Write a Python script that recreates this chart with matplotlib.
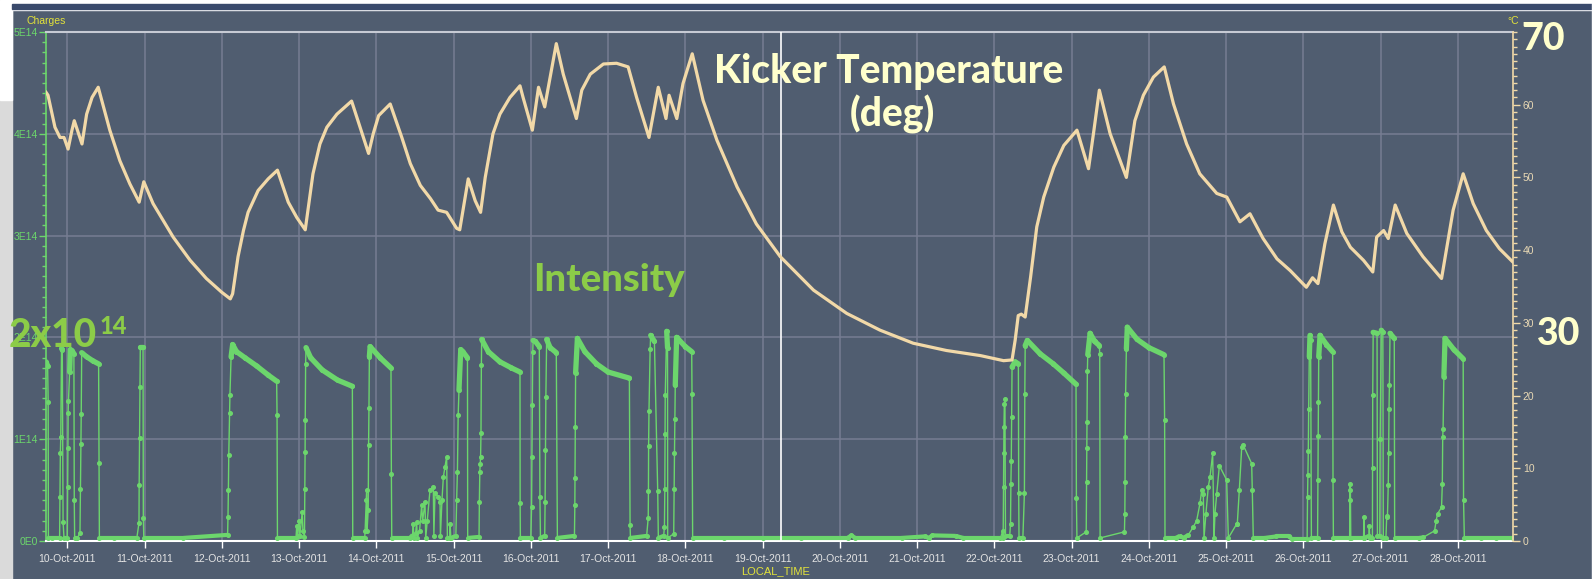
import matplotlib.pyplot as plt
import numpy as np
from matplotlib.collections import LineCollection
from matplotlib.patches import Rectangle

plt.rcParams['font.family'] = ['Liberation Sans', 'DejaVu Sans']

W, H = 1595, 579

# time axis: day of October 2011 (fractional)
temp_day = [9.725, 9.75, 9.84, 9.905, 9.957, 10.01, 10.06, 10.09, 10.19, 10.25, 10.32, 10.40,
            10.55, 10.68, 10.81, 10.93, 10.99, 11.11, 11.37, 11.59, 11.80, 12.00, 12.11, 12.14,
            12.21, 12.28, 12.34, 12.47, 12.60, 12.72, 12.86, 12.97, 13.08, 13.12, 13.18, 13.27,
            13.36, 13.49, 13.68, 13.79, 13.90, 13.96, 14.03, 14.18, 14.33, 14.44, 14.57, 14.70,
            14.80, 14.91, 15.04, 15.08, 15.19, 15.28, 15.35, 15.41, 15.51, 15.60, 15.73, 15.86,
            15.90, 16.02, 16.10, 16.18, 16.33, 16.42, 16.59, 16.66, 16.77, 16.94, 17.11, 17.26,
            17.37, 17.53, 17.65, 17.75, 17.79, 17.89, 17.97, 18.09, 18.23, 18.41, 18.67, 18.92,
            19.23, 19.66, 20.09, 20.52, 20.95, 21.38, 21.82, 22.12, 22.23, 22.27, 22.31, 22.35,
            22.40, 22.47, 22.55, 22.64, 22.77, 22.90, 23.07, 23.22, 23.29, 23.36, 23.50, 23.71,
            23.82, 23.93, 24.06, 24.20, 24.32, 24.49, 24.66, 24.79, 24.88, 25.01, 25.18, 25.31,
            25.48, 25.66, 25.83, 26.04, 26.12, 26.19, 26.28, 26.39, 26.50, 26.61, 26.78, 26.90,
            26.95, 27.04, 27.10, 27.19, 27.34, 27.55, 27.79, 27.94, 28.07, 28.20, 28.37, 28.54,
            28.71]
temp_deg = [61.7, 61.3, 56.9, 55.5, 55.5, 53.9, 56.5, 57.8, 54.6, 58.7, 61.0, 62.4,
            56.5, 52.3, 49.1, 46.6, 49.4, 46.4, 41.8, 38.6, 36.1, 34.2, 33.3, 34.0,
            39.1, 42.7, 45.2, 48.2, 49.8, 51.0, 46.6, 44.5, 42.8, 45.9, 50.5, 54.6,
            56.9, 58.7, 60.5, 56.9, 53.3, 56.0, 58.5, 60.1, 55.5, 51.9, 48.9, 47.1,
            45.5, 45.2, 43.0, 42.8, 49.8, 46.8, 45.2, 50.0, 56.0, 58.7, 61.0, 62.6,
            61.0, 56.5, 62.4, 59.7, 68.4, 64.2, 58.1, 62.0, 64.2, 65.6, 65.7, 65.2,
            61.0, 55.5, 62.4, 58.1, 61.3, 58.1, 62.9, 67.0, 60.6, 55.1, 48.7, 43.6,
            39.1, 34.5, 31.3, 29.0, 27.2, 26.2, 25.5, 24.8, 24.9, 27.6, 31.0, 31.2,
            30.8, 36.3, 43.2, 47.3, 51.4, 54.4, 56.5, 51.2, 56.5, 62.0, 56.0, 50.0,
            57.8, 61.3, 63.8, 65.2, 60.1, 54.6, 50.5, 48.9, 47.8, 47.3, 43.9, 45.0,
            41.6, 38.8, 37.2, 34.9, 36.2, 35.4, 40.9, 46.2, 42.5, 40.4, 38.6, 37.0,
            41.8, 42.7, 41.6, 46.2, 42.3, 39.1, 36.1, 45.5, 50.5, 46.4, 42.7, 40.2,
            38.4]

# beam intensity, units of 1E14 charges
int_day = [9.725, 9.745, 9.752, 9.755, 9.80, 9.90,
           9.905, 9.91, 9.915, 9.925, 9.935, 9.945, 9.957,
           10.0, 10.005, 10.008, 10.011, 10.015, 10.03, 10.04, 10.06, 10.085, 10.09, 10.095,
           10.13, 10.164, 10.17, 10.175, 10.18, 10.186, 10.25, 10.33, 10.405, 10.41, 10.415,
           10.6, 10.9, 10.928, 10.93, 10.935, 10.94, 10.945, 10.98, 10.984, 10.99,
           11.5, 12.075, 12.08, 12.085, 12.09, 12.10, 12.105, 12.12, 12.14, 12.19, 12.30, 12.45,
           12.60, 12.71, 12.715, 12.72,
           12.96, 12.97, 12.98, 13.00, 13.01, 13.04, 13.05, 13.07,
           13.075, 13.078, 13.08, 13.085, 13.09, 13.15, 13.30, 13.50, 13.69, 13.695,
           13.85, 13.855, 13.87, 13.875, 13.88, 13.895,
           13.90, 13.905, 13.91, 13.92, 14.05, 14.19, 14.195, 14.2,
           14.436, 14.47, 14.479, 14.485, 14.51, 14.522, 14.53, 14.56, 14.587, 14.60, 14.63, 14.64,
           14.66, 14.695, 14.738, 14.745, 14.76, 14.803, 14.825, 14.83, 14.85, 14.868, 14.889,
           14.911, 14.92, 14.95, 14.955, 14.965,
           15.03, 15.04, 15.05, 15.06, 15.07, 15.093, 15.12, 15.18, 15.183,
           15.33, 15.334, 15.34, 15.345, 15.35, 15.355, 15.36, 15.364, 15.45, 15.60, 15.75,
           15.86, 15.862, 15.865,
           16.00, 16.01, 16.015, 16.02, 16.025, 16.03, 16.06, 16.11, 16.118, 16.125,
           16.18, 16.185, 16.19, 16.195, 16.205, 16.25, 16.33, 16.344,
           16.565, 16.57, 16.572, 16.575, 16.58, 16.603, 16.70, 16.85, 17.0, 17.276, 17.285, 17.29,
           17.50, 17.52, 17.523, 17.525, 17.53, 17.545, 17.552, 17.60, 17.643, 17.651,
           17.72, 17.73, 17.735, 17.738, 17.74, 17.759, 17.77, 17.772,
           17.85, 17.855, 17.86, 17.865, 17.87, 17.888, 18.0, 18.083, 18.087, 18.095,
           18.5, 19.0, 19.5, 20.1, 20.15, 20.2, 20.8, 21.10, 21.15, 21.2, 21.5, 21.6, 22.08,
           22.11, 22.115, 22.12, 22.122, 22.125, 22.13, 22.138, 22.145,
           22.20, 22.21, 22.215, 22.22, 22.225, 22.23, 22.269, 22.312, 22.316, 22.32,
           22.37, 22.39, 22.395, 22.40, 22.428, 22.592, 22.764, 22.90, 23.058, 23.063, 23.07,
           23.19, 23.195, 23.198, 23.20, 23.205, 23.21, 23.24, 23.30, 23.36, 23.365, 23.37,
           23.685, 23.69, 23.693, 23.695, 23.70, 23.71, 23.722, 23.85, 24.00, 24.197, 24.205, 24.21,
           24.35, 24.40, 24.45, 24.512, 24.577, 24.62, 24.663, 24.685, 24.706, 24.715, 24.74,
           24.77, 24.793, 24.827, 24.845, 24.857, 24.879, 24.914, 25.008, 25.03,
           25.14, 25.146, 25.172, 25.203, 25.224, 25.332, 25.34, 25.353,
           25.5, 25.65, 25.82, 25.85, 26.05,
           26.055, 26.06, 26.065, 26.07, 26.078, 26.087, 26.095, 26.105,
           26.185, 26.19, 26.193, 26.196, 26.20, 26.217, 26.30, 26.38, 26.385, 26.39,
           26.60, 26.603, 26.605, 26.61, 26.615,
           26.78, 26.786, 26.79, 26.85, 26.855, 26.86,
           26.895, 26.897, 26.899, 26.905, 26.955, 26.96,
           26.99, 26.995, 27.01, 27.03, 27.036,
           27.07, 27.08, 27.09, 27.10, 27.105, 27.11, 27.115, 27.123, 27.178, 27.183,
           27.50, 27.55, 27.70, 27.72, 27.74, 27.79, 27.80, 27.805, 27.81, 27.82, 27.835,
           27.95, 28.07, 28.075, 28.085, 28.3, 28.5, 28.71]
int_val = [1.76, 1.72, 1.37, 0.03, 0.03, 0.03,
           0.43, 0.86, 1.02, 1.89, 1.88, 0.19, 0.03,
           0.03, 0.53, 0.91, 1.26, 1.38, 1.66, 1.88, 1.87, 1.84, 0.40, 0.03,
           0.03, 0.08, 0.51, 0.95, 1.25, 1.85, 1.81, 1.77, 1.74, 0.77, 0.03,
           0.03, 0.03, 0.18, 0.55, 1.01, 1.51, 1.91, 1.91, 0.23, 0.03,
           0.03, 0.06, 0.24, 0.50, 0.84, 1.26, 1.43, 1.81, 1.93, 1.86, 1.80, 1.72,
           1.63, 1.57, 1.24, 0.03,
           0.03, 0.15, 0.05, 0.20, 0.05, 0.28, 0.10, 0.04,
           0.51, 0.87, 1.19, 1.74, 1.90, 1.80, 1.68, 1.58, 1.52, 0.03,
           0.03, 0.10, 0.40, 0.50, 0.10, 0.30,
           0.94, 1.31, 1.81, 1.91, 1.80, 1.70, 0.66, 0.03,
           0.03, 0.06, 0.17, 0.03, 0.08, 0.19, 0.03, 0.10, 0.35, 0.20, 0.38, 0.03,
           0.20, 0.50, 0.53, 0.05, 0.47, 0.43, 0.38, 0.05, 0.40, 0.63, 0.73,
           0.83, 0.03, 0.03, 0.17, 0.03,
           0.05, 0.40, 0.68, 1.24, 1.48, 1.88, 1.86, 1.80, 0.03,
           0.04, 0.38, 0.68, 0.76, 0.83, 1.06, 1.73, 1.98, 1.86, 1.76, 1.70,
           1.66, 0.37, 0.03,
           0.03, 0.33, 0.83, 1.34, 1.86, 1.97, 1.96, 1.91, 0.43, 0.03,
           0.05, 0.38, 0.89, 1.41, 1.98, 1.90, 1.85, 0.03,
           0.05, 0.35, 0.62, 1.12, 1.65, 1.99, 1.86, 1.74, 1.66, 1.60, 0.16, 0.03,
           0.05, 0.23, 0.49, 0.93, 1.28, 1.89, 2.02, 1.96, 0.49, 0.03,
           0.05, 0.14, 0.51, 1.05, 1.43, 2.06, 1.90, 0.03,
           0.07, 0.51, 0.86, 1.20, 1.53, 2.00, 1.91, 1.86, 1.44, 0.03,
           0.03, 0.03, 0.03, 0.03, 0.055, 0.03, 0.03, 0.045, 0.03, 0.055, 0.05, 0.03, 0.03,
           0.10, 0.03, 0.53, 0.86, 1.12, 1.35, 1.39, 0.05,
           0.05, 0.17, 0.56, 0.79, 1.22, 1.71, 1.76, 1.74, 0.47, 0.03,
           0.03, 0.47, 1.44, 1.92, 1.97, 1.84, 1.74, 1.65, 1.54, 0.42, 0.03,
           0.09, 0.58, 0.91, 1.17, 1.67, 1.83, 2.04, 1.96, 1.92, 1.84, 0.03,
           0.09, 0.27, 0.58, 1.02, 1.44, 1.89, 2.10, 1.98, 1.90, 1.83, 1.19, 0.03,
           0.03, 0.05, 0.03, 0.06, 0.14, 0.20, 0.37, 0.50, 0.46, 0.03, 0.27,
           0.53, 0.63, 0.86, 0.03, 0.27, 0.46, 0.74, 0.60, 0.03,
           0.17, 0.17, 0.50, 0.92, 0.94, 0.76, 0.50, 0.03,
           0.03, 0.045, 0.045, 0.02, 0.02,
           0.43, 0.65, 0.88, 1.30, 1.81, 2.02, 1.97, 0.03,
           0.03, 0.60, 1.03, 1.37, 1.81, 2.02, 1.93, 1.86, 0.60, 0.03,
           0.03, 0.40, 0.56, 0.50, 0.03,
           0.03, 0.24, 0.03, 0.05, 0.15, 0.03,
           0.03, 0.72, 1.43, 2.05, 2.04, 0.05,
           0.05, 1.00, 2.07, 2.05, 0.03,
           0.03, 0.24, 0.25, 0.55, 0.86, 1.30, 1.53, 2.04, 1.99, 0.03,
           0.03, 0.035, 0.10, 0.20, 0.27, 0.33, 0.56, 1.02, 1.10, 1.61, 1.99,
           1.88, 1.79, 0.40, 0.03, 0.03, 0.03, 0.03]

day_ticks = list(range(10, 29))
day_labels = [f"{d}-Oct-2011" for d in day_ticks]
charge_ticks = [0, 1, 2, 3, 4, 5]
charge_labels = ["0E0", "1E14", "2E14", "3E14", "4E14", "5E14"]
deg_ticks = [0, 10, 20, 30, 40, 50, 60]
cursor_day = 19.24

panel = '#505d70'
grid_c = '#777d92'
green = '#6cd66c'
wheat = '#f2d9a8'
yellow = '#e2e23a'
cream = '#ffffcc'
lime = '#8ccc48'

fig = plt.figure(figsize=(W / 100, H / 100), dpi=100, facecolor=panel)


def fx(x):
    return x / W


def fy(y):
    return 1 - y / H


# slide surroundings
fig.patches.append(Rectangle((0, 0), fx(12), 1, transform=fig.transFigure,
                             color='#dadada', zorder=-2))
fig.patches.append(Rectangle((0, fy(100)), fx(12), 1 - fy(100), transform=fig.transFigure,
                             color='white', zorder=-2))
fig.patches.append(Rectangle((fx(12), fy(10)), 1, 1, transform=fig.transFigure,
                             color='white', zorder=-2))
fig.patches.append(Rectangle((fx(12), fy(8.5)), 1, fy(4) - fy(8.5), transform=fig.transFigure,
                             color='#3a4a6c', zorder=-1))
fig.patches.append(Rectangle((fx(1592), 0), 1, 1, transform=fig.transFigure,
                             color='white', zorder=-1))

ax = fig.add_axes([fx(46), fy(541), fx(1513) - fx(46), fy(32) - fy(541)])
ax.set_facecolor(panel)
ax.set_xlim(9.724, 28.715)
ax.set_ylim(0, 5)

ax.set_xticks(day_ticks)
ax.set_xticklabels(day_labels)
ax.set_yticks(charge_ticks)
ax.set_yticklabels(charge_labels)
ax.set_yticks(np.arange(0, 5.01, 0.1), minor=True)
ax.grid(True, color=grid_c, lw=1.1)
ax.set_axisbelow(True)
ax.tick_params(axis='x', direction='out', length=5, width=1, color='white',
               labelcolor='#e4e4e4', labelsize=7.5, pad=4)
ax.tick_params(axis='y', which='major', direction='out', length=5, width=1, color=green,
               labelcolor=green, labelsize=7.5, pad=1)
ax.tick_params(axis='y', which='minor', direction='out', length=3, width=1, color=green)
ax.spines['left'].set_color(green)
ax.spines['left'].set_linewidth(1.2)
ax.spines['bottom'].set_color('white')
ax.spines['bottom'].set_linewidth(1.5)
ax.spines['top'].set_color('#c6cad4')
ax.spines['top'].set_linewidth(1.5)
ax.spines['right'].set_visible(False)

# intensity: thin line with point markers, denser stretches drawn thicker
d = np.array(int_day)
v = np.array(int_val)
ax.plot(d, v, '-', color=green, lw=1.0, marker='o', ms=2.6, mec=green, zorder=3)
top_segs, low_segs = [], []
for i in range(len(d) - 1):
    if v[i] > 1.45 and v[i + 1] > 1.45 and d[i + 1] - d[i] > 0.009:
        top_segs.append([(d[i], v[i]), (d[i + 1], v[i + 1])])
    elif v[i] < 0.07 and v[i + 1] < 0.07:
        low_segs.append([(d[i], v[i]), (d[i + 1], v[i + 1])])
ax.add_collection(LineCollection(top_segs, colors=green, linewidths=3.8, capstyle='round', zorder=3))
ax.add_collection(LineCollection(low_segs, colors=green, linewidths=3.0, zorder=3))

ax.axvline(cursor_day, color='white', lw=1.2, zorder=4)

ax2 = ax.twinx()
ax2.set_ylim(0, 70)
ax2.set_yticks(deg_ticks)
ax2.set_yticks(np.arange(0, 70.1, 1), minor=True)
ax2.tick_params(axis='y', which='major', direction='out', length=5, width=1, color=wheat,
                labelcolor='#e8d8b4', labelsize=7.5, pad=2)
ax2.tick_params(axis='y', which='minor', direction='out', length=3, width=1, color=wheat)
for s in ['left', 'top', 'bottom']:
    ax2.spines[s].set_visible(False)
ax2.spines['right'].set_color(wheat)
ax2.spines['right'].set_linewidth(1.2)
ax2.plot(temp_day, temp_deg, '-', color=wheat, lw=2.3, solid_joinstyle='round')

# chart labels
fig.text(fx(27), fy(24), "Charges", color=yellow, fontsize=7.5)
fig.text(fx(1507), fy(24), "°C", color=yellow, fontsize=7.5)
fig.text(fx(776), fy(574), "LOCAL_TIME", color=yellow, fontsize=8, ha='center')

# slide annotations
big = dict(family=['Lato', 'Roboto', 'DejaVu Sans'], weight='black')
fig.text(fx(889), fy(83), "Kicker Temperature", color=cream, fontsize=28, ha='center',
         va='baseline', **big)
fig.text(fx(892), fy(126), "(deg)", color=cream, fontsize=28, ha='center', va='baseline', **big)
fig.text(fx(609), fy(291), "Intensity", color=lime, fontsize=27.5, ha='center', va='baseline', **big)
fig.text(fx(9), fy(347), "2x10", color=lime, fontsize=28, ha='left', va='baseline', **big)
fig.text(fx(100), fy(334), "14", color=lime, fontsize=17, ha='left', va='baseline', **big)
fig.text(fx(1543), fy(50), "70", color=cream, fontsize=27, ha='center', va='baseline', **big)
fig.text(fx(1559), fy(345), "30", color=cream, fontsize=27, ha='center', va='baseline', **big)

fig.savefig('out.png', dpi=100, facecolor=fig.get_facecolor())
